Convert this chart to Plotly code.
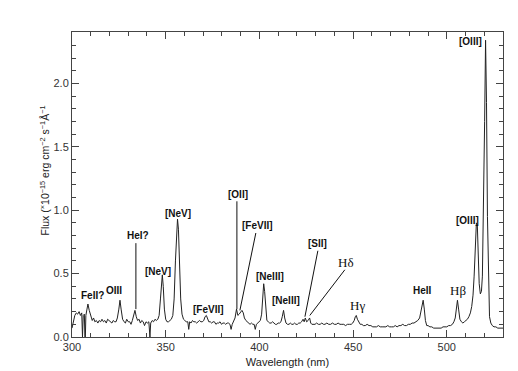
import plotly.graph_objects as go

# spectrum (nm, 1e-15 erg/cm2/s/A)
wavelength = [
    300.0, 300.8, 301.5, 302.3, 303.0, 303.8, 304.5, 305.2, 305.6, 306.0,
    306.6, 307.0, 307.4, 308.0, 308.5, 309.2, 310.0, 310.8, 311.5, 312.2,
    313.0, 313.8, 314.5, 315.3, 316.0, 316.8, 317.5, 318.3, 319.0, 319.8,
    320.5, 321.3, 322.0, 322.8, 323.5, 324.2, 325.0, 325.6, 326.2, 327.0,
    327.8, 328.5, 329.2, 330.0, 330.8, 331.5, 332.2, 333.0, 333.6, 334.3,
    335.0, 335.8, 336.5, 337.2, 338.0, 338.7, 339.5, 340.2, 341.0, 341.6,
    342.0, 342.8, 343.5, 344.3, 345.0, 345.8, 346.5, 347.2, 347.8, 348.2,
    348.7, 349.3, 350.0, 350.7, 351.5, 352.2, 353.0, 353.8, 354.5, 355.2,
    355.8, 356.3, 356.8, 357.4, 358.0, 358.7, 359.5, 360.2, 361.0, 361.8,
    362.3, 362.8, 363.5, 364.3, 365.0, 365.8, 366.5, 367.3, 368.0, 368.8,
    369.5, 370.3, 371.0, 371.7, 372.4, 373.0, 373.8, 374.5, 375.3, 376.0,
    376.8, 377.5, 378.3, 379.0, 379.8, 380.5, 381.3, 382.0, 382.8, 383.5,
    384.3, 384.9, 385.5, 386.2, 387.0, 387.8, 388.5, 389.2, 390.0, 390.7,
    391.4, 392.0, 392.8, 393.5, 394.2, 395.0, 395.8, 396.5, 397.2, 397.8,
    398.4, 399.0, 399.8, 400.5, 401.2, 401.8, 402.3, 402.8, 403.4, 404.0,
    404.8, 405.5, 406.3, 407.0, 407.8, 408.5, 409.3, 410.0, 410.8, 411.5,
    412.2, 412.9, 413.5, 414.2, 415.0, 415.8, 416.5, 417.3, 418.0, 418.8,
    419.5, 420.3, 421.0, 421.8, 422.5, 423.3, 423.9, 424.5, 425.2, 426.0,
    426.8, 427.4, 428.0, 428.8, 429.7, 430.5, 431.5, 432.4, 433.3, 434.2,
    435.0, 436.0, 437.0, 438.0, 439.0, 440.0, 441.0, 442.0, 443.0, 444.0,
    445.0, 446.0, 447.0, 448.0, 449.0, 449.8, 450.6, 451.2, 451.7, 452.3,
    453.0, 453.8, 454.7, 455.5, 456.5, 457.5, 458.5, 459.5, 460.5, 461.5,
    462.5, 463.5, 464.5, 465.5, 466.5, 467.5, 468.5, 469.5, 470.5, 471.5,
    472.5, 473.5, 474.5, 475.5, 476.5, 477.5, 478.5, 479.5, 480.5, 481.5,
    482.5, 483.5, 484.5, 485.5, 486.3, 486.9, 487.4, 488.0, 488.6, 489.3,
    490.0, 491.0, 492.0, 493.0, 494.0, 495.0, 496.0, 497.0, 498.0, 499.0,
    500.0, 501.0, 502.0, 503.0, 503.8, 504.5, 505.1, 505.7, 506.3, 507.0,
    507.8, 508.6, 509.4, 510.2, 511.0, 511.8, 512.6, 513.3, 514.0, 514.6,
    515.2, 515.8, 516.3, 516.8, 517.3, 517.9, 518.5, 519.0, 519.6, 520.2,
    520.7, 521.2, 521.7, 522.2, 522.8, 523.5, 524.3, 525.2, 526.2, 527.2,
    528.2, 529.2, 530.0,
]
flux = [
    0.07, 0.12, 0.17, 0.19, 0.18, 0.20, 0.17, 0.19, 0.00, 0.17,
    0.18, -0.08, 0.17, 0.22, 0.26, 0.21, 0.16, 0.13, 0.15, 0.12,
    0.13, 0.11, 0.13, 0.12, 0.14, 0.12, 0.13, 0.11, 0.14, 0.13,
    0.12, 0.11, 0.13, 0.12, 0.12, 0.15, 0.22, 0.29, 0.22, 0.14,
    0.12, 0.11, 0.14, 0.12, 0.12, 0.10, 0.13, 0.17, 0.21, 0.16,
    0.13, 0.14, 0.11, 0.13, 0.12, 0.09, 0.12, 0.11, 0.12, 0.00,
    0.11, 0.13, 0.12, 0.14, 0.13, 0.14, 0.17, 0.30, 0.46, 0.49,
    0.40, 0.22, 0.14, 0.12, 0.12, 0.13, 0.14, 0.17, 0.30, 0.60,
    0.88, 0.93, 0.85, 0.55, 0.30, 0.18, 0.14, 0.13, 0.12, 0.12,
    0.06, 0.12, 0.11, 0.13, 0.12, 0.12, 0.11, 0.12, 0.13, 0.12,
    0.12, 0.13, 0.16, 0.17, 0.15, 0.12, 0.12, 0.11, 0.12, 0.12,
    0.10, 0.11, 0.11, 0.12, 0.10, 0.11, 0.11, 0.10, 0.11, 0.11,
    0.10, 0.06, 0.10, 0.12, 0.15, 0.22, 0.17, 0.18, 0.20, 0.21,
    0.19, 0.15, 0.13, 0.12, 0.11, 0.10, 0.11, 0.10, 0.10, 0.06,
    0.10, 0.11, 0.12, 0.13, 0.18, 0.30, 0.42, 0.36, 0.20, 0.13,
    0.12, 0.11, 0.11, 0.12, 0.11, 0.10, 0.10, 0.11, 0.11, 0.12,
    0.16, 0.21, 0.15, 0.11, 0.10, 0.10, 0.11, 0.10, 0.10, 0.11,
    0.10, 0.10, 0.11, 0.11, 0.12, 0.14, 0.12, 0.15, 0.12, 0.13,
    0.15, 0.11, 0.10, 0.10, 0.10, 0.11, 0.10, 0.10, 0.11, 0.10,
    0.10, 0.11, 0.10, 0.10, 0.11, 0.10, 0.10, 0.11, 0.10, 0.10,
    0.10, 0.09, 0.10, 0.10, 0.10, 0.11, 0.13, 0.16, 0.17, 0.14,
    0.12, 0.10, 0.10, 0.09, 0.09, 0.10, 0.09, 0.09, 0.08, 0.08,
    0.08, 0.09, 0.08, 0.08, 0.08, 0.08, 0.09, 0.08, 0.08, 0.08,
    0.09, 0.08, 0.09, 0.09, 0.10, 0.09, 0.09, 0.10, 0.10, 0.11,
    0.11, 0.12, 0.13, 0.15, 0.20, 0.25, 0.29, 0.22, 0.13, 0.09,
    0.09, 0.08, 0.08, 0.07, 0.07, 0.07, 0.07, 0.07, 0.08, 0.08,
    0.08, 0.09, 0.09, 0.10, 0.12, 0.15, 0.22, 0.29, 0.22, 0.14,
    0.12, 0.11, 0.12, 0.13, 0.14, 0.16, 0.19, 0.24, 0.33, 0.48,
    0.72, 0.90, 0.88, 0.62, 0.42, 0.34, 0.36, 0.48, 0.95, 1.70,
    2.34, 1.85, 0.95, 0.40, 0.16, 0.11, 0.09, 0.08, 0.08, 0.07,
    0.07, 0.07, 0.07,
]

# line labels: text, label x/y, leader line (x0, y0, x1, y1) or None
label_text = ["FeII?", "OIII", "HeI?", "[NeV]", "[NeV]", "[FeVII]", "[OII]",
              "[FeVII]", "[NeIII]", "[NeIII]", "[SII]", "Hδ", "Hγ", "HeII",
              "Hβ", "[OIII]", "[OIII]"]
label_x = [310.7, 322.4, 335.2, 345.9, 356.5, 373.1, 388.5, 399.2, 405.6,
           414.1, 431.2, 446.1, 452.5, 487.2, 505.9, 511.2, 512.8]
label_y = [0.33, 0.37, 0.80, 0.52, 0.97, 0.22, 1.12, 0.88, 0.48, 0.285,
           0.74, 0.59, 0.25, 0.37, 0.37, 0.92, 2.33]
leaders = [
    None, None, (334.1, 0.74, 334.1, 0.22), None, None, None,
    (388.0, 1.07, 388.0, 0.22), (398.1, 0.82, 389.6, 0.21), None, None,
    (431.2, 0.68, 424.3, 0.16), (445.6, 0.53, 426.9, 0.17),
    None, None, None, None, None,
]
serif_labels = {"Hδ", "Hγ", "Hβ"}

fig = go.Figure()
fig.add_trace(go.Scatter(
    x=wavelength, y=flux, mode="lines",
    line=dict(color="#222", width=1), hoverinfo="skip",
))

for txt, lx, ly, ld in zip(label_text, label_x, label_y, leaders):
    if txt in serif_labels:
        font = dict(family="Liberation Serif", size=13, color="#111")
    else:
        font = dict(family="Liberation Sans", size=10, color="#111")
        txt = f"<b>{txt}</b>"
    fig.add_annotation(x=lx, y=ly, text=txt, showarrow=False, font=font)
    if ld:
        fig.add_shape(type="line", x0=ld[0], y0=ld[1], x1=ld[2], y1=ld[3],
                      line=dict(color="#111", width=1))

# y title as a rotated annotation (sits a bit above the axis centre)
fig.add_annotation(
    xref="paper", yref="paper", x=-0.083, y=0.545, textangle=-90,
    text="Flux (<sup>×</sup>10<sup>−15</sup> erg cm<sup>−2</sup> "
         "s<sup>−1</sup>Å<sup>−1</sup>",
    showarrow=False, font=dict(family="Liberation Sans", size=10.5, color="#222"),
)

axis_common = dict(
    showgrid=False, zeroline=False, showline=True, linecolor="#444",
    linewidth=1, mirror="ticks", ticks="inside", tickcolor="#444",
    tickfont=dict(family="Liberation Sans", size=11, color="#333"),
)
fig.update_xaxes(
    range=[300, 530], dtick=50, ticklen=7,
    minor=dict(dtick=10, ticks="inside", ticklen=4, tickcolor="#444"),
    title=dict(text="Wavelength (nm)", standoff=6,
               font=dict(family="Liberation Sans", size=11, color="#222")),
    **axis_common,
)
fig.update_yaxes(
    range=[0, 2.405], dtick=0.5, tickformat=".1f", ticklen=7,
    minor=dict(dtick=0.1, ticks="inside", ticklen=4, tickcolor="#444"),
    **axis_common,
)
fig.update_layout(
    width=518, height=371, showlegend=False,
    plot_bgcolor="white", paper_bgcolor="white",
    margin=dict(l=64, r=23, t=24, b=42),
)
fig.write_html("out.html")
